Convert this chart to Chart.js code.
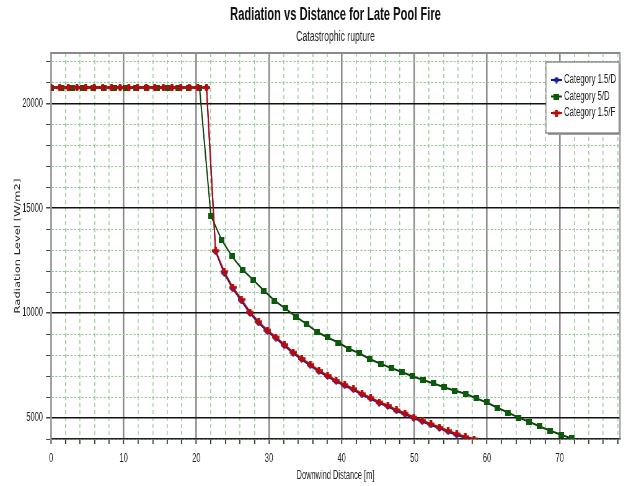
<!DOCTYPE html>
<html lang="en">
<head>
    <meta charset="UTF-8">
    <title>Radiation vs Distance for Late Pool Fire</title>
    <script src="https://cdn.jsdelivr.net/npm/chart.js"></script>
    <style>
        html, body { margin: 0; padding: 0; background: #fff; overflow: hidden; }
        #wrap { position: relative; width: 626px; height: 486px; overflow: hidden; }
        /* the original picture is a wide chart squeezed sideways, so draw wide and squeeze */
        #radChart {
            position: absolute; left: 0; top: 0;
            width: 1010px; height: 486px;
            transform: scale(0.6198, 1);
            transform-origin: 0 0;
        }
    </style>
</head>
<body>
    <div id="wrap"><canvas id="radChart" width="1010" height="486"></canvas></div>

    <script>
        // values
        const seriesNames = ['Category 1.5/D', 'Category 5/D', 'Category 1.5/F'];

        const dist15D = [0, 1.19, 2.38, 3.57, 4.76, 5.95, 7.13, 8.32, 9.51, 10.7, 11.89, 13.08, 14.27, 15.46, 16.65, 17.84, 19.03, 20.21, 21.4,
            22.65, 23.84, 25.02, 26.21, 27.39, 28.58, 29.76, 30.95, 32.13, 33.32, 34.5, 35.69, 36.87, 38.06, 39.24, 40.43,
            41.61, 42.8, 43.98, 45.17, 46.35, 47.54, 48.72, 49.91, 51.09, 52.28, 53.46, 54.65, 55.83, 57.02, 58.2];
        const rad15D = [20750, 20750, 20750, 20750, 20750, 20750, 20750, 20750, 20750, 20750, 20750, 20750, 20750, 20750, 20750, 20750, 20750, 20750, 20750,
            12930, 11900, 11160, 10580, 9990, 9530, 9130, 8800, 8440, 8090, 7790, 7500, 7220, 6980, 6740, 6540,
            6350, 6110, 5920, 5710, 5550, 5340, 5180, 4990, 4830, 4670, 4510, 4350, 4190, 4060, 3960];

        const dist5D = [0, 1.46, 2.92, 4.38, 5.84, 7.3, 8.76, 10.22, 11.68, 13.14, 14.6, 16.06, 17.52, 18.98, 20.44,
            22.0, 23.46, 24.92, 26.38, 27.84, 29.3, 30.76, 32.22, 33.68, 35.14, 36.6, 38.06, 39.52, 40.98, 42.44,
            43.9, 45.36, 46.82, 48.28, 49.74, 51.2, 52.66, 54.12, 55.58, 57.04, 58.5, 59.96, 61.42, 62.88, 64.34,
            65.8, 67.26, 68.72, 70.18, 71.64];
        const rad5D = [20750, 20750, 20750, 20750, 20750, 20750, 20750, 20750, 20750, 20750, 20750, 20750, 20750, 20750, 20750,
            14650, 13500, 12700, 12060, 11580, 11070, 10600, 10230, 9830, 9490, 9110, 8840, 8600, 8300, 8090,
            7800, 7590, 7380, 7190, 6990, 6810, 6650, 6470, 6300, 6160, 5940, 5740, 5490, 5260, 5020,
            4820, 4600, 4390, 4200, 4030];

        const dist15F = [0, 1.19, 2.38, 3.57, 4.76, 5.95, 7.13, 8.32, 9.51, 10.7, 11.89, 13.08, 14.27, 15.46, 16.65, 17.84, 19.03, 20.21, 21.4,
            22.65, 23.84, 25.02, 26.21, 27.39, 28.58, 29.76, 30.95, 32.13, 33.32, 34.5, 35.69, 36.87, 38.06, 39.24, 40.43,
            41.61, 42.8, 43.98, 45.17, 46.35, 47.54, 48.72, 49.91, 51.09, 52.28, 53.46, 54.65, 55.83, 57.02, 58.2];
        const rad15F = [20750, 20750, 20750, 20750, 20750, 20750, 20750, 20750, 20750, 20750, 20750, 20750, 20750, 20750, 20750, 20750, 20750, 20750, 20750,
            12980, 11980, 11230, 10650, 10050, 9590, 9190, 8860, 8500, 8140, 7840, 7550, 7270, 7030, 6790, 6590,
            6400, 6160, 5970, 5760, 5600, 5390, 5230, 5040, 4880, 4720, 4560, 4400, 4240, 4110, 4000];

        const xTickLabels = [0, 10, 20, 30, 40, 50, 60, 70];
        const yTickLabels = [5000, 10000, 15000, 20000];

        const SQ = 0.6198; // sideways squeeze
        const sans = "'Liberation Sans', Arial, sans-serif";
        Chart.defaults.font.family = sans;
        Chart.defaults.color = '#222';

        function toPoints(xs, ys) {
            return xs.map((x, i) => ({ x: x, y: ys[i] }));
        }

        // small marker images, drawn wide so they come out right after the squeeze
        function makeMarker(w, h, color, shape) {
            const c = document.createElement('canvas');
            c.width = w; c.height = h;
            const g = c.getContext('2d');
            g.fillStyle = color;
            if (shape === 'square') {
                g.fillRect(0, 0, w, h);
            } else if (shape === 'diamond') {
                g.beginPath();
                g.moveTo(w / 2, 0); g.lineTo(w, h / 2); g.lineTo(w / 2, h); g.lineTo(0, h / 2);
                g.closePath(); g.fill();
            } else {
                g.fillRect(0, h / 2 - 1.3, w, 2.6);
                g.fillRect(w / 2 - 2.2, 0, 4.4, h);
            }
            return c;
        }

        const lineColors = ['#14149a', '#0a430a', '#b20a0a'];
        const markers = [
            makeMarker(11, 7, '#1a1aa8', 'diamond'),
            makeMarker(9, 6, '#0c5a0c', 'square'),
            makeMarker(12, 7, '#b80c0c', 'plus')
        ];

        const isMajor = (c, step) => c.tick && Math.abs(c.tick.value % step) < 1e-6;

        // frame round the plot area
        const framePlugin = {
            id: 'frame',
            beforeDatasetsDraw(chart) {
                const a = chart.chartArea, ctx = chart.ctx;
                ctx.save();
                ctx.strokeStyle = '#8a8a8a';
                ctx.lineWidth = 2;
                ctx.beginPath();
                ctx.moveTo(a.left, a.top);
                ctx.lineTo(a.right, a.top);
                ctx.lineTo(a.right, a.bottom);
                ctx.stroke();
                ctx.restore();
            }
        };

        // legend box inside the plot, top right
        const legendBox = {
            id: 'legendBox',
            afterDraw(chart) {
                const ctx = chart.ctx;
                const bx = 546 / SQ, by = 62, bw = 73 / SQ, bh = 71;
                ctx.save();
                ctx.fillStyle = '#a0a0a0';
                ctx.fillRect(bx + 3, by + 2, bw, bh);
                ctx.fillStyle = '#fff';
                ctx.fillRect(bx, by, bw, bh);
                ctx.strokeStyle = '#777';
                ctx.lineWidth = 1.2;
                ctx.strokeRect(bx, by, bw, bh);
                ctx.font = '12.5px ' + sans;
                ctx.textBaseline = 'middle';
                const rows = [80, 96.5, 113];
                seriesNames.forEach((name, i) => {
                    const y = rows[i];
                    ctx.strokeStyle = lineColors[i];
                    ctx.lineWidth = 2;
                    ctx.beginPath();
                    ctx.moveTo(551 / SQ, y);
                    ctx.lineTo(562 / SQ, y);
                    ctx.stroke();
                    const m = markers[i];
                    ctx.drawImage(m, 556.5 / SQ - m.width / 2, y - m.height / 2);
                    ctx.fillStyle = '#222';
                    ctx.fillText(name, 564 / SQ, y);
                });
                ctx.restore();
            }
        };

        const ctx = document.getElementById('radChart').getContext('2d');
        new Chart(ctx, {
            type: 'line',
            data: {
                datasets: [
                    { label: seriesNames[0], data: toPoints(dist15D, rad15D), order: 2 },
                    { label: seriesNames[1], data: toPoints(dist5D, rad5D), order: 1 },
                    { label: seriesNames[2], data: toPoints(dist15F, rad15F), order: 0 }
                ].map((d, i) => Object.assign(d, {
                    borderColor: lineColors[i],
                    backgroundColor: lineColors[i],
                    pointStyle: markers[i],
                    pointRadius: 3,
                    borderWidth: 2,
                    tension: 0,
                    fill: false
                }))
            },
            plugins: [framePlugin, legendBox],
            options: {
                responsive: false,
                animation: false,
                events: [],
                layout: { padding: { top: 0, right: 9.7, bottom: 0, left: 0 } },
                plugins: {
                    legend: { display: false },
                    tooltip: { enabled: false },
                    title: {
                        display: true,
                        fullSize: false,
                        text: 'Radiation vs Distance for Late Pool Fire',
                        color: '#111',
                        font: { size: 18, weight: 'bold' },
                        padding: { top: 4.2, bottom: 2 }
                    },
                    subtitle: {
                        display: true,
                        fullSize: false,
                        text: 'Catastrophic rupture',
                        color: '#222',
                        font: { size: 14 },
                        padding: { top: 0.8, bottom: 7.6 }
                    }
                },
                scales: {
                    x: {
                        type: 'linear',
                        min: 0,
                        max: 78.3,
                        afterFit(scale) { scale.height = 47; },
                        afterBuildTicks(scale) {
                            const t = [];
                            for (let v = 0; v <= 78; v += 2) t.push({ value: v });
                            scale.ticks = t;
                        },
                        ticks: {
                            maxRotation: 0,
                            autoSkip: false,
                            padding: 7,
                            font: { size: 12 },
                            callback: v => xTickLabels.includes(v) ? String(v) : ''
                        },
                        grid: {
                            color: c => isMajor(c, 10) ? '#8c8c8c' : '#a6cea6',
                            lineWidth: c => isMajor(c, 10) ? 2.6 : 1.7,
                            tickColor: '#333',
                            tickWidth: 1.8,
                            tickLength: 5
                        },
                        border: {
                            color: '#222',
                            width: 1.5,
                            dash: c => (c.tick && !isMajor(c, 10)) ? [4, 3] : []
                        },
                        title: {
                            display: true,
                            text: 'Downwind Distance [m]',
                            font: { size: 12 },
                            padding: { top: 0, bottom: 3 }
                        }
                    },
                    y: {
                        min: 4000,
                        max: 22400,
                        afterFit(scale) { scale.width = 51 / SQ; },
                        afterBuildTicks(scale) {
                            const t = [];
                            for (let v = 4000; v <= 22000; v += 1000) t.push({ value: v });
                            scale.ticks = t;
                        },
                        ticks: {
                            autoSkip: false,
                            padding: 5,
                            font: { size: 12 },
                            callback: v => yTickLabels.includes(v) ? String(v) : ''
                        },
                        grid: {
                            color: c => isMajor(c, 5000) ? '#111' : '#98c698',
                            lineWidth: c => isMajor(c, 5000) ? 1.5 : 1,
                            tickColor: '#444',
                            tickLength: 8
                        },
                        border: {
                            color: '#9a9a9a',
                            width: 2.4,
                            dash: c => (c.tick && !isMajor(c, 5000)) ? [3.5, 2.5] : []
                        },
                        title: {
                            display: true,
                            text: 'Radiation Level [W/m2]',
                            font: { size: 11.5, family: "'DejaVu Sans', sans-serif" },
                            padding: { top: 22, bottom: 0 }
                        }
                    }
                }
            }
        });
    </script>
</body>
</html>
